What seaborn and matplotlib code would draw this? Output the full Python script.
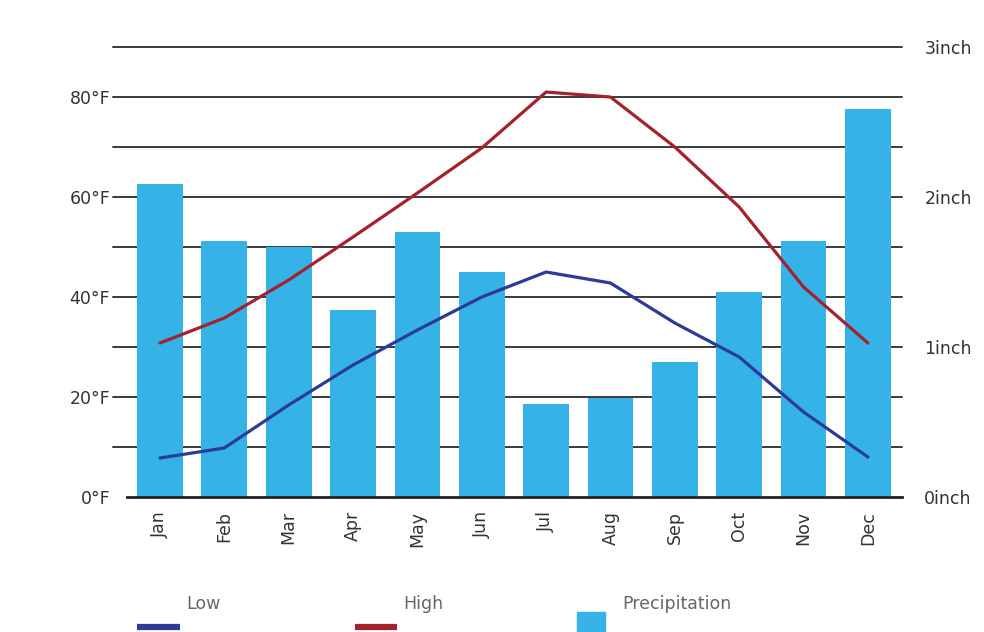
import numpy as np
import pandas as pd
import matplotlib
matplotlib.use("Agg")
import matplotlib.pyplot as plt
from matplotlib.ticker import MultipleLocator, FixedLocator
from matplotlib.lines import Line2D
from matplotlib.patches import Rectangle
import seaborn as sns

months = ["Jan", "Feb", "Mar", "Apr", "May", "Jun", "Jul", "Aug", "Sep", "Oct", "Nov", "Dec"]
high_f = [30.8, 35.8, 43.4, 52.0, 60.8, 69.8, 81.0, 80.0, 70.0, 58.0, 42.0, 30.8]
low_f = [7.8, 9.8, 18.4, 26.4, 33.4, 40.0, 45.0, 42.8, 34.8, 28.0, 17.0, 8.0]
precip_in = [2.09, 1.71, 1.67, 1.25, 1.77, 1.50, 0.62, 0.66, 0.90, 1.37, 1.71, 2.59]
temp_ticks = [0, 20, 40, 60, 80]
temp_labels = ["0°F", "20°F", "40°F", "60°F", "80°F"]
rain_ticks = [0, 1, 2, 3]
rain_labels = ["0inch", "1inch", "2inch", "3inch"]

sns.set_theme(style="white")
plt.rcParams["font.family"] = ["DejaVu Sans"]

BAR = "#35b3e6"
HIGH = "#a3222d"
LOW = "#2b3b97"
GRID = "#3a3a3a"
TXT = "#333333"

df = pd.DataFrame({"month": months, "high": high_f, "low": low_f, "precip": precip_in,
                   "pos": np.arange(len(months))})

fig = plt.figure(figsize=(9.84, 6.32), dpi=100)
ax_p = fig.add_axes([0.1148, 0.2136, 0.9167 - 0.1148, 0.9256 - 0.2136])

sns.barplot(data=df, x="month", y="precip", color=BAR, saturation=1, width=0.71,
            linewidth=0, edgecolor=BAR, ax=ax_p, zorder=2)
ax_p.set_ylim(0, 3)
ax_p.set_xlim(-0.73, 11.53)
ax_p.yaxis.set_major_locator(FixedLocator(rain_ticks))
ax_p.yaxis.set_minor_locator(MultipleLocator(1 / 3))
ax_p.set_axisbelow(True)
ax_p.grid(True, axis="y", which="both", color=GRID, linewidth=1.4)
ax_p.grid(False, axis="x")

ax_t = ax_p.twinx()
sns.lineplot(data=df, x="pos", y="high", color=HIGH, linewidth=2.3, ax=ax_t)
sns.lineplot(data=df, x="pos", y="low", color=LOW, linewidth=2.3, ax=ax_t)
ax_t.set_ylim(0, 90)
ax_t.set_xlim(-0.73, 11.53)

# temperature ticks on left
ax_t.yaxis.tick_left()
ax_t.set_yticks(temp_ticks)
ax_t.set_yticklabels(temp_labels)
ax_t.tick_params(axis="y", length=0, pad=2, labelsize=12.5, labelcolor=TXT)
ax_t.set_ylabel("")
ax_t.set_xlabel("")

# precipitation ticks on right
ax_p.yaxis.tick_right()
ax_p.set_yticks(rain_ticks)
ax_p.set_yticklabels(rain_labels)
ax_p.tick_params(axis="y", which="both", length=0, pad=16, labelsize=12.5, labelcolor=TXT)
ax_p.set_ylabel("")
ax_p.set_xlabel("")
ax_p.set_xticks(range(len(months)))
ax_p.set_xticklabels(months, rotation=90)
ax_p.tick_params(axis="x", length=0, pad=10, labelsize=12.5, labelcolor=TXT)

for t in ax_p.yaxis.get_major_ticks() + ax_p.yaxis.get_minor_ticks():
    t.gridline.set_clip_on(False)
# baseline is drawn by the bottom spine instead
ax_p.yaxis.get_major_ticks()[0].gridline.set_visible(False)
ax_p.yaxis.get_minor_ticks()[0].gridline.set_visible(False)

for a in (ax_p, ax_t):
    for s in a.spines.values():
        s.set_visible(False)
ax_p.spines["bottom"].set_visible(True)
ax_p.spines["bottom"].set_color("#222222")
ax_p.spines["bottom"].set_linewidth(2)
ax_p.spines["bottom"].set_bounds(-0.51, 11.53)

# legend (labels above swatches)
def fx(px):
    return px / 984.0

def fy(py):
    return 1 - py / 632.0

LEG = "#666666"
fig.text(fx(186), fy(604), "Low", fontsize=12.5, color=LEG, va="center", ha="left")
fig.text(fx(403), fy(604), "High", fontsize=12.5, color=LEG, va="center", ha="left")
fig.text(fx(622), fy(604), "Precipitation", fontsize=12.5, color=LEG, va="center", ha="left")
fig.add_artist(Line2D([fx(137), fx(180)], [fy(627), fy(627)], color=LOW, linewidth=4.5,
                      solid_capstyle="butt", transform=fig.transFigure))
fig.add_artist(Line2D([fx(355), fx(397)], [fy(627), fy(627)], color=HIGH, linewidth=4.5,
                      solid_capstyle="butt", transform=fig.transFigure))
fig.add_artist(Rectangle((fx(577), fy(634)), fx(28), 22 / 632.0, color=BAR,
                         transform=fig.transFigure))

fig.savefig("out.png", dpi=100)
